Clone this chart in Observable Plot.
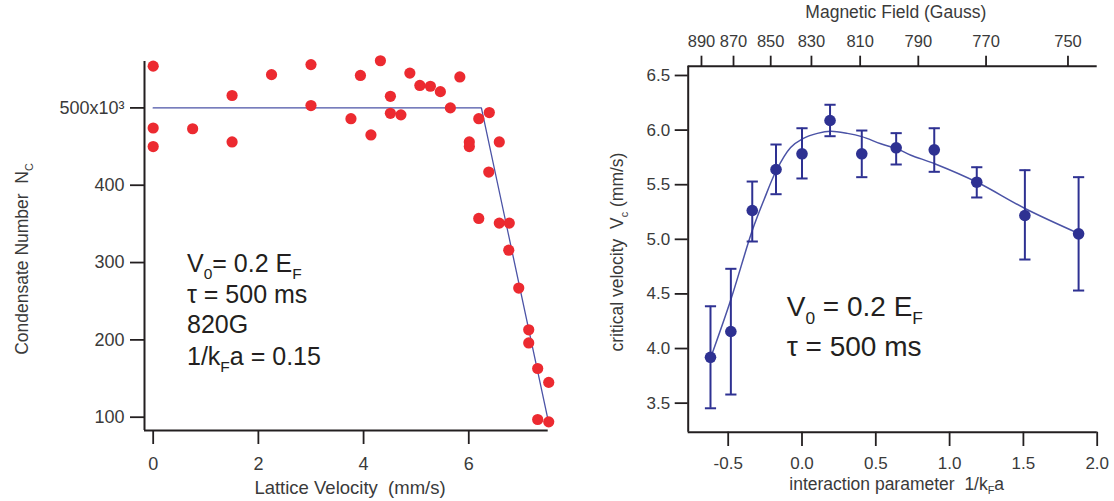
<!DOCTYPE html>
<html>
<head>
<meta charset="utf-8">
<script src="https://cdn.jsdelivr.net/npm/d3@7"></script>
<script src="https://cdn.jsdelivr.net/npm/@observablehq/plot@0.6"></script>
<style>
  html, body { margin: 0; padding: 0; background: #fff; }
  #wrap { position: relative; width: 1114px; height: 501px; overflow: hidden; font-family: "Liberation Sans", Arial, sans-serif; }
  #left { position: absolute; left: 0; top: 0; }
  #right { position: absolute; left: 560px; top: 0; }
  #overlay { position: absolute; left: 0; top: 0; pointer-events: none; }
  #overlay text { white-space: pre; }
</style>
</head>
<body>
<div id="wrap">
  <div id="left"></div>
  <div id="right"></div>
  <svg id="overlay" width="1114" height="501"></svg>
</div>
<script>
// ---------- Left panel data: condensate number vs lattice velocity ----------
const latticeVelocity = [0, 0, 0, 0.75, 1.5, 1.5, 2.25, 3.0, 3.0, 3.76, 3.94, 4.14, 4.32, 4.51, 4.51, 4.71, 4.88, 5.07, 5.27, 5.46, 5.65, 5.83, 6.01, 6.01, 6.19, 6.39, 6.58, 6.38, 6.19, 6.58, 6.77, 6.76, 6.95, 7.14, 7.14, 7.31, 7.52, 7.31, 7.52];
const condensateNumber = [554, 474, 450, 473, 516, 456, 543, 556, 503, 486, 542, 465, 561, 515, 493, 491, 545, 529, 528, 521, 500, 540, 456, 450, 486, 494, 456, 417, 357, 351, 351, 316, 267, 213, 196, 163, 145, 97, 94];
const fitVelocity = [0, 6.24, 7.51];
const fitNumber = [500, 500, 95.7];
const leftYTicks = [100, 200, 300, 400, 500];
const leftXTicks = [0, 2, 4, 6];

// ---------- Right panel data: critical velocity vs interaction parameter ----------
const interaction = [-0.62, -0.482, -0.337, -0.176, 0.0, 0.19, 0.405, 0.638, 0.896, 1.184, 1.51, 1.874];
const criticalVelocity = [3.92, 4.156, 5.264, 5.639, 5.783, 6.088, 5.783, 5.838, 5.819, 5.523, 5.218, 5.05];
const errorHigh = [4.387, 4.73, 5.529, 5.868, 6.017, 6.232, 5.996, 5.972, 6.017, 5.66, 5.633, 5.569];
const errorLow = [3.453, 3.579, 4.98, 5.413, 5.557, 5.944, 5.569, 5.685, 5.618, 5.383, 4.815, 4.531];
const curveInteraction = [-0.615, -0.484, -0.337, -0.258, -0.174, -0.077, 0.003, 0.104, 0.195, 0.308, 0.405, 0.534, 0.641, 0.738, 0.903, 1.19, 1.514, 1.88];
const curveVelocity = [3.93, 4.44, 5.08, 5.36, 5.63, 5.84, 5.92, 5.97, 5.99, 5.97, 5.94, 5.875, 5.83, 5.77, 5.69, 5.52, 5.28, 5.05];
const rightXTicks = [-0.5, 0.0, 0.5, 1.0, 1.5, 2.0];
const rightYTicks = [3.5, 4.0, 4.5, 5.0, 5.5, 6.0, 6.5];
// top axis: magnetic field labels and their positions on the 1/kFa axis
const fieldLabels = [890, 870, 850, 830, 810, 790, 770, 750];
const fieldTickPositions = [-0.681, -0.464, -0.212, 0.064, 0.394, 0.788, 1.247, 1.802];

// ---------- styling ----------
const FONT = "'Liberation Sans', Arial, Helvetica, sans-serif";
const AXIS = "#231f20";
const TICKTEXT = "#3a3a3a";
const RED = "#ec2a30";
const NAVY = "#2e3192";
const FITBLUE = "#4b53a6";

// ---------- left plot ----------
const leftPoints = latticeVelocity.map((v, i) => ({v, n: condensateNumber[i]}));
const leftFit = fitVelocity.map((v, i) => ({v, n: fitNumber[i]}));
const leftXDomain = [-0.165, 7.51];
const leftYDomain = [82.8, 560];

const leftPlot = Plot.plot({
  width: 560, height: 501,
  marginLeft: 144, marginRight: 12.3, marginTop: 61, marginBottom: 71,
  style: {fontFamily: FONT, background: "transparent", overflow: "visible"},
  x: {domain: leftXDomain},
  y: {domain: leftYDomain},
  marks: [
    Plot.ruleX([leftXDomain[0]], {stroke: AXIS, strokeWidth: 2}),
    Plot.ruleY([leftYDomain[0]], {stroke: AXIS, strokeWidth: 2}),
    Plot.axisY({ticks: leftYTicks, tickSize: 14, tickPadding: 6, fontSize: 18,
      tickFormat: d => d === 500 ? "500x10\u00B3" : String(d),
      stroke: AXIS, strokeWidth: 1.8, fill: TICKTEXT, label: null}),
    Plot.axisX({ticks: leftXTicks, tickSize: 14, tickPadding: 12.5, fontSize: 18,
      tickFormat: d => String(d),
      stroke: AXIS, strokeWidth: 1.8, fill: TICKTEXT, label: null}),
    Plot.line(leftFit, {x: "v", y: "n", stroke: FITBLUE, strokeWidth: 1.3}),
    Plot.dot(leftPoints, {x: "v", y: "n", r: 5.6, fill: RED, stroke: "none"})
  ]
});
document.getElementById("left").appendChild(leftPlot);

// ---------- right plot ----------
const rightPoints = interaction.map((k, i) => ({k, vc: criticalVelocity[i], hi: errorHigh[i], lo: errorLow[i]}));
const rightCurve = curveInteraction.map((k, i) => ({k, vc: curveVelocity[i]}));
const rightXDomain = [-0.771, 2.0];
const rightYDomain = [3.234, 6.585];
const capSymbol = {
  draw(context, size) {
    const r = Math.sqrt(size / Math.PI);
    context.moveTo(-r, 0);
    context.lineTo(r, 0);
  }
};

const rightPlot = Plot.plot({
  width: 554, height: 501,
  marginLeft: 127.7, marginRight: 17.3, marginTop: 65.7, marginBottom: 69.3,
  style: {fontFamily: FONT, background: "transparent", overflow: "visible"},
  x: {domain: rightXDomain},
  y: {domain: rightYDomain},
  marks: [
    Plot.ruleX([rightXDomain[0]], {stroke: AXIS, strokeWidth: 2}),
    Plot.ruleY([rightYDomain[0]], {stroke: AXIS, strokeWidth: 2}),
    Plot.ruleY([rightYDomain[1]], {stroke: AXIS, strokeWidth: 2}),
    Plot.axisY({ticks: rightYTicks, tickSize: 13, tickPadding: 5, fontSize: 17,
      tickFormat: d => d.toFixed(1),
      stroke: AXIS, strokeWidth: 1.8, fill: TICKTEXT, label: null}),
    Plot.axisX({ticks: rightXTicks, tickSize: 14.3, tickPadding: 10.5, fontSize: 17,
      tickFormat: d => d.toFixed(1),
      stroke: AXIS, strokeWidth: 1.8, fill: TICKTEXT, label: null}),
    Plot.axisX({anchor: "top", ticks: fieldTickPositions, tickSize: 11, tickPadding: 8, fontSize: 16.5,
      tickFormat: d => String(fieldLabels[fieldTickPositions.indexOf(d)]),
      stroke: AXIS, strokeWidth: 1.8, fill: TICKTEXT, label: null}),
    Plot.line(rightCurve, {x: "k", y: "vc", curve: "catmull-rom", stroke: FITBLUE, strokeWidth: 1.5}),
    Plot.ruleX(rightPoints, {x: "k", y1: "lo", y2: "hi", stroke: NAVY, strokeWidth: 2}),
    Plot.dot(rightPoints, {x: "k", y: "hi", symbol: capSymbol, r: 5.6, stroke: NAVY, strokeWidth: 2, fill: "none"}),
    Plot.dot(rightPoints, {x: "k", y: "lo", symbol: capSymbol, r: 5.6, stroke: NAVY, strokeWidth: 2, fill: "none"}),
    Plot.dot(rightPoints, {x: "k", y: "vc", r: 5.8, fill: NAVY, stroke: "none"})
  ]
});
document.getElementById("right").appendChild(rightPlot);

// ---------- text overlay (labels with subscripts) ----------
const ov = d3.select("#overlay").attr("font-family", FONT);

function richText(parent, parts, opts) {
  const t = parent.append("text")
    .attr("x", opts.x).attr("y", opts.y)
    .attr("font-size", opts.size)
    .attr("fill", opts.fill || "#231f20")
    .attr("text-anchor", opts.anchor || "start");
  if (opts.rotate) t.attr("transform", `rotate(${opts.rotate} ${opts.x} ${opts.y})`);
  const subSize = opts.size * 0.62;
  const shift = opts.size * 0.28;
  let pendingUp = 0;
  for (const p of parts) {
    if (typeof p === "string") {
      const s = t.append("tspan").attr("font-size", opts.size).text(p);
      if (pendingUp) { s.attr("dy", -pendingUp); pendingUp = 0; }
    } else {
      t.append("tspan").attr("font-size", subSize).attr("dy", shift).text(p.sub);
      pendingUp = shift;
    }
  }
  return t;
}

// left annotations
richText(ov, ["V", {sub: "0"}, "= 0.2 E", {sub: "F"}], {x: 187, y: 271.7, size: 25});
richText(ov, ["\u03C4 = 500 ms"], {x: 187, y: 302.7, size: 25});
richText(ov, ["820G"], {x: 187, y: 333.3, size: 25});
richText(ov, ["1/k", {sub: "F"}, "a = 0.15"], {x: 187, y: 365, size: 25});

// right annotations
richText(ov, ["V", {sub: "0"}, " = 0.2 E", {sub: "F"}], {x: 786.7, y: 315.7, size: 28});
richText(ov, ["\u03C4 = 500 ms"], {x: 786.7, y: 356, size: 28});

// axis titles
richText(ov, ["Lattice Velocity  (mm/s)"], {x: 350, y: 494, size: 18.5, anchor: "middle", fill: "#3a3a3a"});
richText(ov, ["Condensate Number  N", {sub: "C"}], {x: 28, y: 259, size: 17.5, anchor: "middle", rotate: -90, fill: "#3a3a3a"});
richText(ov, ["interaction parameter  1/k", {sub: "F"}, "a"], {x: 896.7, y: 489.5, size: 17.5, anchor: "middle", fill: "#3a3a3a"});
richText(ov, ["critical velocity  V", {sub: "c"}, " (mm/s)"], {x: 623, y: 252, size: 17.5, anchor: "middle", rotate: -90, fill: "#3a3a3a"});
richText(ov, ["Magnetic Field (Gauss)"], {x: 895.8, y: 18.3, size: 17.5, anchor: "middle", fill: "#3a3a3a"});
</script>
</body>
</html>
